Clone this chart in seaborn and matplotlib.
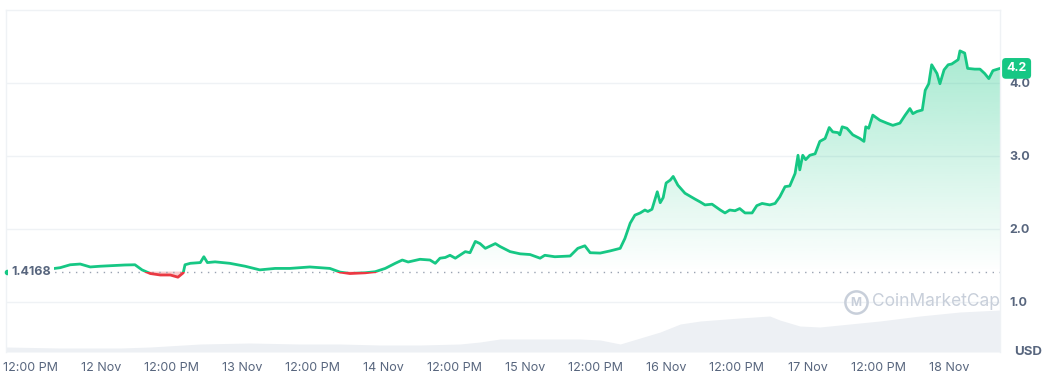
import numpy as np
import pandas as pd
import matplotlib
matplotlib.use("Agg")
import matplotlib.pyplot as plt
import seaborn as sns
from matplotlib.patches import Rectangle

# --- DATA ---
# hours since 11 Nov 00:00
hours = [7.9, 10.3, 12.85, 15.4, 17.1, 18.8, 20.5, 22.2, 23.9, 25.6, 28.1, 29.8, 31.0, 32.4,
         34.1, 35.8, 37.1, 38.0, 38.3, 39.2, 40.9, 41.5, 42.1, 43.4, 45.9, 48.5, 51.0, 53.6,
         56.1, 59.5, 62.9, 64.6, 66.3, 68.9, 70.6, 72.3, 74.0, 75.2, 76.2, 78.2, 79.9, 80.8,
         81.6, 82.5, 83.3, 84.2, 85.9, 86.7, 87.6, 88.4, 89.3, 91.0, 91.8, 93.5, 95.2, 96.9,
         98.6, 99.4, 101.1, 103.7, 105.0, 106.2, 107.1, 108.8, 110.5, 112.2, 113.0, 113.9,
         114.7, 115.6, 116.4, 116.9, 117.6, 118.5, 119.0, 119.5, 120.0, 120.7, 121.2, 122.0,
         123.2, 124.9, 125.8, 126.6, 127.8, 129.2, 130.0, 130.8, 131.7, 132.5, 133.4, 134.6,
         135.4, 136.3, 137.6, 138.5, 139.3, 140.2, 141.0, 141.9, 142.4, 142.7, 143.2, 143.7,
         144.4, 145.3, 146.1, 147.0, 147.7, 148.3, 149.2, 149.5, 149.9, 150.7, 151.7, 152.9,
         153.6, 153.9, 154.4, 155.1, 156.3, 157.5, 158.5, 159.7, 160.6, 161.4, 161.9, 162.6,
         163.5, 164.0, 164.6, 165.1, 166.0, 166.5, 167.2, 167.9, 168.5, 169.6, 169.9, 170.7,
         171.2, 172.4, 173.3, 174.1, 174.8, 175.5, 176.7]
price = [1.4168, 1.43, 1.44, 1.452, 1.47, 1.51, 1.52, 1.48, 1.49, 1.497, 1.507, 1.51, 1.44, 1.39,
         1.37, 1.37, 1.34, 1.40, 1.51, 1.53, 1.54, 1.62, 1.54, 1.55, 1.53, 1.49, 1.44, 1.46,
         1.46, 1.48, 1.46, 1.41, 1.39, 1.40, 1.415, 1.46, 1.53, 1.575, 1.548, 1.585, 1.575, 1.53,
         1.60, 1.61, 1.64, 1.60, 1.69, 1.675, 1.83, 1.80, 1.735, 1.80, 1.76, 1.69, 1.66, 1.65,
         1.60, 1.64, 1.62, 1.63, 1.735, 1.77, 1.675, 1.67, 1.70, 1.735, 1.87, 2.08,
         2.19, 2.22, 2.26, 2.24, 2.27, 2.51, 2.36, 2.43, 2.63, 2.67, 2.72, 2.60,
         2.49, 2.41, 2.37, 2.33, 2.34, 2.26, 2.22, 2.26, 2.25, 2.28, 2.22, 2.22,
         2.32, 2.35, 2.33, 2.35, 2.44, 2.58, 2.59, 2.76, 3.01, 2.81, 3.01, 2.95,
         3.01, 3.03, 3.20, 3.24, 3.39, 3.33, 3.32, 3.29, 3.40, 3.38, 3.29, 3.24,
         3.20, 3.40, 3.38, 3.56, 3.49, 3.45, 3.42, 3.45, 3.56, 3.65, 3.58, 3.61,
         3.63, 3.90, 3.99, 4.25, 4.13, 3.99, 4.18, 4.25, 4.26, 4.32, 4.44, 4.41,
         4.20, 4.19, 4.19, 4.13, 4.06, 4.17, 4.20]

vol_hours = [7.9, 17.1, 27.3, 32.4, 40.9, 49.3, 57.8, 64.6, 71.4, 78.2, 85.0, 88.4, 91.8, 100.3,
             105.4, 108.8, 112.2, 115.6, 119.0, 122.4, 125.8, 132.5, 137.6, 139.3, 142.7, 146.1,
             151.2, 156.3, 163.1, 169.9, 176.7]
volume = [5, 4, 4, 5, 8, 9, 8, 8, 7, 7, 8, 10, 13, 13, 13, 12, 8, 14, 20, 28, 31, 34, 36, 32,
          26, 25, 28, 31, 36, 40, 42]

open_price = 1.4168
last_label = "4.2"
tick_hours = [12, 24, 36, 48, 60, 72, 84, 96, 108, 120, 132, 144, 156, 168]
tick_labels = ["12:00 PM", "12 Nov", "12:00 PM", "13 Nov", "12:00 PM", "14 Nov", "12:00 PM",
               "15 Nov", "12:00 PM", "16 Nov", "12:00 PM", "17 Nov", "12:00 PM", "18 Nov"]
y_ticks = [1.0, 2.0, 3.0, 4.0]

GREEN = "#16c784"
RED = "#ea3943"
TEXT = "#58667e"
GRID = "#eff2f5"
MARK = "#c8cfda"

sns.set_theme(style="white")
plt.rcParams['font.family'] = ['Inter', 'DejaVu Sans']

df = pd.DataFrame({"hour": hours, "price": price})
vdf = pd.DataFrame({"hour": vol_hours, "volume": volume})

fig = plt.figure(figsize=(10.44, 3.81), dpi=100)
ax = fig.add_axes([6 / 1044, 29 / 381, 994 / 1044, 342 / 381])
ax2 = ax.twinx()
ax.set_zorder(ax2.get_zorder() + 1)
ax.patch.set_visible(False)

x0, x1 = 7.9, 176.7
y0, y1 = 0.315, 5.0

# volume
ax2.fill_between(vdf["hour"], vdf["volume"], 0, color="#edf0f4", lw=0)
ax2.set_ylim(0, 342)
ax2.set_yticks([])
for s in ax2.spines.values():
    s.set_visible(False)

# gridlines
for yv in y_ticks:
    ax.axhline(yv, color=GRID, lw=1, zorder=0)

# gradient fill above baseline
poly = ax.fill_between(df["hour"], np.maximum(df["price"], open_price), open_price,
                       color="none", lw=0)
grad = np.zeros((256, 1, 4))
grad[:, 0, 0:3] = matplotlib.colors.to_rgb(GREEN)
grad[:, 0, 3] = np.linspace(0.38, 0.0, 256)
im = ax.imshow(grad, extent=[x0, x1, open_price, 4.5], aspect="auto", origin="upper", zorder=1)
im.set_clip_path(poly.get_paths()[0], transform=ax.transData)

# red fill below baseline
ax.fill_between(df["hour"], df["price"], open_price, where=df["price"] < open_price,
                interpolate=True, color=RED, alpha=0.25, lw=0, zorder=1)

# lines clipped above/below baseline
sns.lineplot(data=df, x="hour", y="price", color=GREEN, lw=2, ax=ax, zorder=3)
ax.lines[-1].set_clip_path(Rectangle((x0, open_price), x1 - x0, y1 - open_price,
                                     transform=ax.transData))
sns.lineplot(data=df, x="hour", y="price", color=RED, lw=2, ax=ax, zorder=3)
ax.lines[-1].set_clip_path(Rectangle((x0, y0), x1 - x0, open_price - y0,
                                     transform=ax.transData))

# baseline
ax.axhline(open_price, color="#9aa3b2", lw=1, ls=(0, (1, 4)), zorder=2)
ax.plot([x0 + 0.2], [open_price], "o", color=GREEN, ms=3, zorder=4, clip_on=False)
ax.text(x0 + 0.9, open_price, f"{open_price:.4f}", color=TEXT, fontsize=9, fontweight="bold",
        va="center", ha="left", zorder=5,
        bbox=dict(boxstyle="square,pad=0.25", fc="white", ec="none"))

ax.set_xlim(x0, x1)
ax.set_ylim(y0, y1)
ax.set_xlabel("")
ax.set_ylabel("")
ax.set_xticks(tick_hours)
ax.set_xticklabels(tick_labels)
ax.yaxis.tick_right()
ax.set_yticks(y_ticks)
ax.set_yticklabels([f"{v:.1f}" for v in y_ticks])
ax.tick_params(axis="both", length=0, colors=TEXT, labelsize=9)
ax.tick_params(axis="x", pad=7)
ax.tick_params(axis="y", pad=7)
for lab in ax.get_yticklabels():
    lab.set_fontweight("bold")

for name, s in ax.spines.items():
    s.set_color(GRID)
    s.set_linewidth(1)
ax.spines["bottom"].set_visible(False)

# current price tag
ax.text(x1 + 1.1, 4.2, last_label, color="white", fontsize=9, fontweight="bold",
        va="center", ha="left", zorder=6, clip_on=False,
        bbox=dict(boxstyle="round,pad=0.35,rounding_size=0.3", fc=GREEN, ec="none"))

# USD label
ax.text(x1 + 2.4, 0.32, "USD", color=TEXT, fontsize=9.5, fontweight="bold",
        va="center", ha="left", clip_on=False)

# watermark
ax.text(165.8, 1.0, "CoinMarketCap", color=MARK, fontsize=12.5, va="center",
        ha="center", zorder=2)
ax.plot([152.2], [1.0], "o", ms=16, mfc="none", mec=MARK, mew=1.8, zorder=2)
ax.text(152.2, 0.99, "M", color=MARK, fontsize=8.5, fontweight="bold", va="center",
        ha="center", zorder=2)

fig.savefig("out.png", dpi=100)
